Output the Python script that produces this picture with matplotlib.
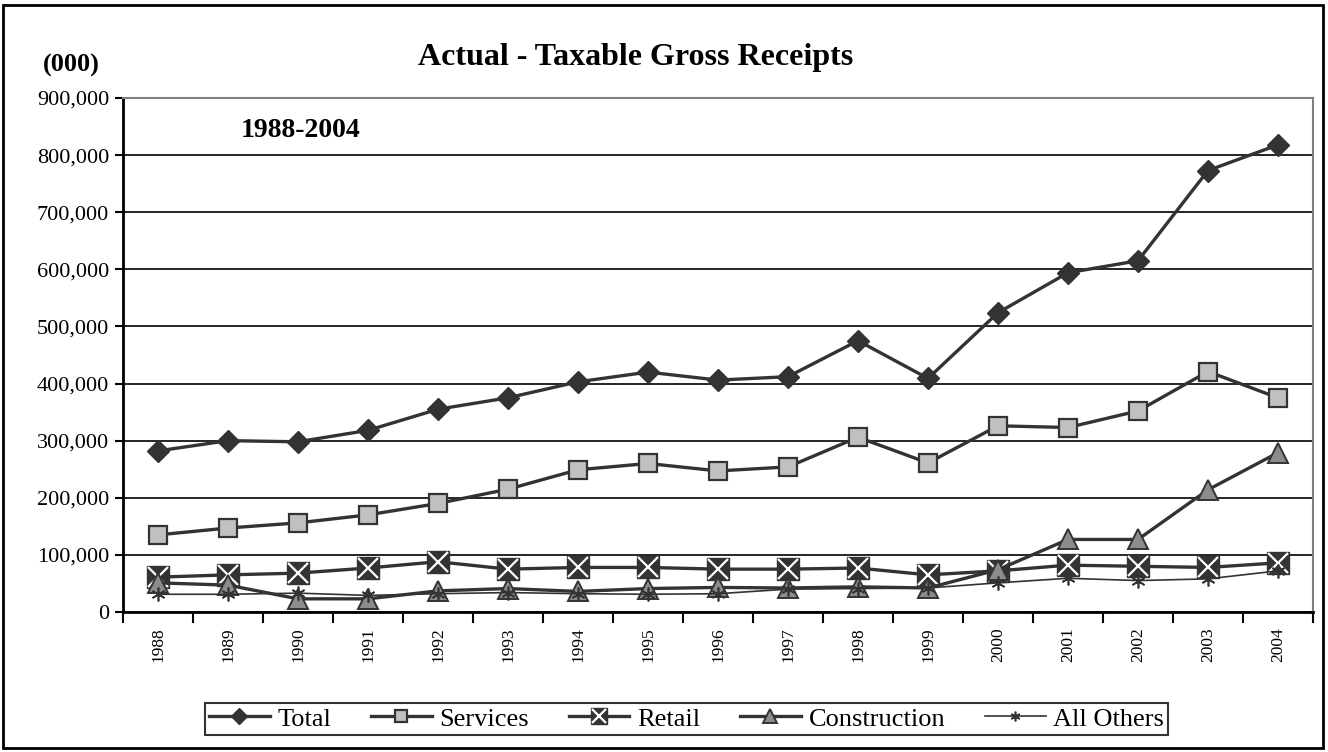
import matplotlib
matplotlib.use("Agg")
import matplotlib.pyplot as plt
from matplotlib.patches import Rectangle
from matplotlib.ticker import FuncFormatter, MultipleLocator
import numpy as np

plt.rcParams['font.family'] = ['Liberation Serif', 'DejaVu Serif']

years = [str(y) for y in range(1988, 2005)]
total = [282000, 300000, 298000, 318000, 355000, 375000, 403000, 420000, 406000,
         412000, 475000, 409000, 524000, 594000, 615000, 773000, 818000]
services = [135000, 147000, 156000, 170000, 190000, 215000, 249000, 260000, 247000,
            254000, 306000, 261000, 326000, 323000, 352000, 421000, 375000]
retail = [61000, 65000, 68000, 77000, 88000, 75000, 78000, 78000, 75000,
          75000, 77000, 65000, 72000, 82000, 80000, 78000, 86000]
construction = [51000, 47000, 23000, 23000, 37000, 41000, 36000, 41000, 43000,
                42000, 44000, 42000, 74000, 127000, 127000, 214000, 279000]
others = [31000, 31000, 33000, 29000, 32000, 34000, 32000, 31000, 32000,
          40000, 41000, 42000, 51000, 59000, 55000, 58000, 72000]

dark = '#333333'
fig = plt.figure(figsize=(13.28, 7.52), dpi=100)
ax = fig.add_axes([0.0926, 0.1862, 0.8961, 0.6835])
x = np.arange(len(years))

# grid lines first so the series sit on top
ax.set_axisbelow(True)
ax.yaxis.grid(True, color='black', linewidth=1.2)

l_tot, = ax.plot(x, total, color=dark, lw=2.4, marker='D', ms=11, mfc=dark, mec=dark)
l_srv, = ax.plot(x, services, color=dark, lw=2.4, marker='s', ms=12.5, mfc='#c0c0c0',
                 mec=dark, mew=1.6)
l_ret, = ax.plot(x, retail, color=dark, lw=2.4, marker='s', ms=15.5, mfc=dark, mec=dark)
l_retx, = ax.plot(x, retail, lw=0, marker='x', ms=14, mec='white', mew=1.6)
l_con, = ax.plot(x, construction, color=dark, lw=2.4, marker='^', ms=15, mfc='#8c8c8c',
                 mec=dark, mew=1.4)
l_oth, = ax.plot(x, others, color=dark, lw=1.2, marker=(6, 2, 0), ms=10, mec=dark, mew=1.2)

ax.set_xlim(-0.5, len(years) - 0.5)
ax.set_ylim(0, 900000)
ax.yaxis.set_major_locator(MultipleLocator(100000))
ax.yaxis.set_major_formatter(FuncFormatter(lambda v, p: f'{int(v):,}'))
ax.set_xticks(x)
ax.set_xticklabels(years, rotation=90, fontsize=12.5)
ax.set_xticks(np.arange(-0.5, len(years)), minor=True)
ax.tick_params(axis='x', which='major', length=0, pad=11)
ax.tick_params(axis='x', which='minor', length=8, width=1.5, direction='out')
ax.tick_params(axis='y', length=6, width=1.5, labelsize=16, pad=4)

for s in ['left', 'bottom']:
    ax.spines[s].set_linewidth(2)
    ax.spines[s].set_color('black')
for s in ['top', 'right']:
    ax.spines[s].set_linewidth(1.5)
    ax.spines[s].set_color('#808080')

fig.text(0.479, 0.923, 'Actual - Taxable Gross Receipts', ha='center', va='center',
         fontsize=23, fontweight='bold')
fig.text(0.054, 0.913, '(000)', ha='center', va='center', fontsize=19, fontweight='bold')
fig.text(0.226, 0.826, '1988-2004', ha='center', va='center', fontsize=20, fontweight='bold')

leg = fig.legend([l_tot, l_srv, (l_ret, l_retx), l_con, l_oth],
                 ['Total', 'Services', 'Retail', 'Construction', 'All Others'],
                 loc='center', bbox_to_anchor=(0.517, 0.044), ncol=5, fontsize=19,
                 frameon=True, fancybox=False, edgecolor='black', handlelength=2.3,
                 columnspacing=1.5, handletextpad=0.3, borderpad=0.15,
                 markerscale=0.7)
leg.get_frame().set_linewidth(1.5)

fig.patches.append(Rectangle((0.0023, 0.0053), 0.9939, 0.9881, transform=fig.transFigure,
                             fill=False, edgecolor='black', linewidth=2))

fig.savefig('out.png', dpi=100)
